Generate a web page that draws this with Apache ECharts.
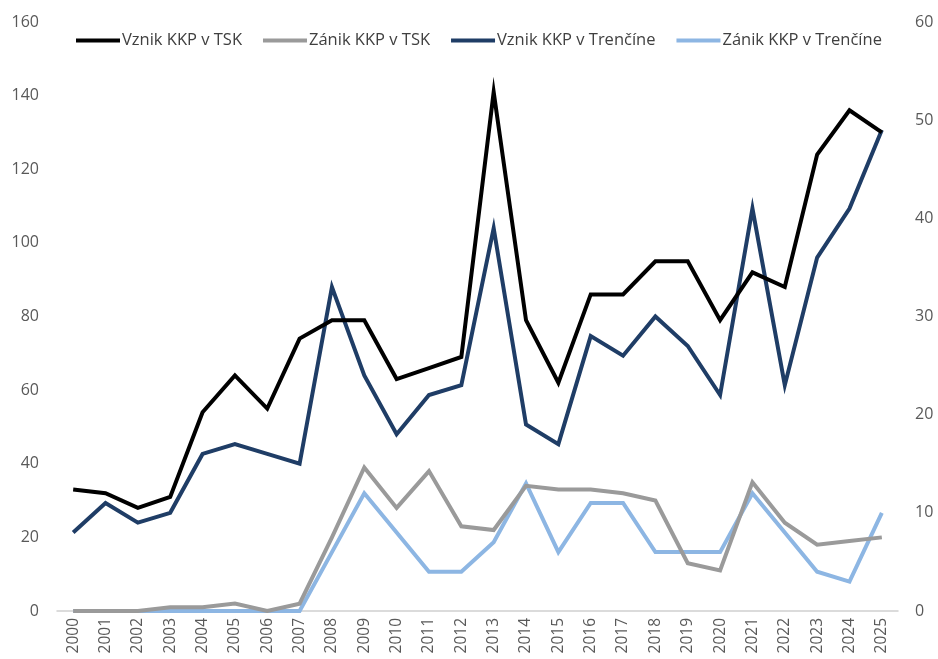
<!DOCTYPE html>
<html>
<head>
<meta charset="utf-8">
<script src="https://cdn.jsdelivr.net/npm/echarts@6/dist/echarts.min.js"></script>
<style>html,body{margin:0;padding:0;background:#fff}#c{width:938px;height:659px}</style>
</head>
<body>
<div id="c"></div>
<script>
const years = ['2000','2001','2002','2003','2004','2005','2006','2007','2008','2009','2010','2011','2012','2013','2014','2015','2016','2017','2018','2019','2020','2021','2022','2023','2024','2025'];
const vznikTSK = [33,32,28,31,54,64,55,74,79,79,63,66,69,141,79,62,86,86,95,95,79,92,88,124,136,130];
const zanikTSK = [0,0,0,1,1,2,0,2,20,39,28,38,23,22,34,33,33,32,30,13,11,35,24,18,19,20];
const vznikTN = [8,11,9,10,16,17,16,15,33,24,18,22,23,39,19,17,28,26,30,27,22,41,23,36,41,49];
const zanikTN = [0,0,0,0,0,0,0,0,6,12,8,4,4,7,13,6,11,11,6,6,6,12,8,4,3,10];
const names = ['Vznik KKP v TSK','Zánik KKP v TSK','Vznik KKP v Trenčíne','Zánik KKP v Trenčíne'];
const colors = ['#000000','#9a9a9a','#1f3d66','#8db6e3'];

const font = '"Open Sans", sans-serif';
const chart = echarts.init(document.getElementById('c'));
function ser(i, data, axis) {
  return {name: names[i], type: 'line', data: data, yAxisIndex: axis, symbol: 'none',
    lineStyle: {width: 4, color: colors[i], join: 'miter'}, itemStyle: {color: colors[i]}, z: 10 - i};
}
chart.setOption({
  animation: false,
  legend: {
    top: 27, left: 71, itemWidth: 44, itemHeight: 4, itemGap: 21,
    icon: 'rect',
    textStyle: {fontFamily: font, fontSize: 16.5, color: '#404040', padding: [0,0,0,-3]},
    data: names
  },
  grid: {left: 57, right: 40, top: 22, bottom: 48, containLabel: false},
  xAxis: {
    type: 'category', data: years, boundaryGap: true,
    axisLine: {lineStyle: {color: '#d0d0d0', width: 1.5}},
    axisTick: {show: false},
    axisLabel: {rotate: 90, fontFamily: font, fontSize: 15.5, color: '#595959', margin: 7}
  },
  yAxis: [
    {type: 'value', min: 0, max: 160, interval: 20, splitLine: {show: false},
     axisLine: {show: false}, axisTick: {show: false},
     axisLabel: {fontFamily: font, fontSize: 16, color: '#595959', margin: 18}},
    {type: 'value', min: 0, max: 60, interval: 10, splitLine: {show: false},
     axisLine: {show: false}, axisTick: {show: false},
     axisLabel: {fontFamily: font, fontSize: 16, color: '#595959', margin: 17}}
  ],
  series: [ser(0, vznikTSK, 0), ser(1, zanikTSK, 0), ser(2, vznikTN, 1), ser(3, zanikTN, 1)]
});
</script>
</body>
</html>
